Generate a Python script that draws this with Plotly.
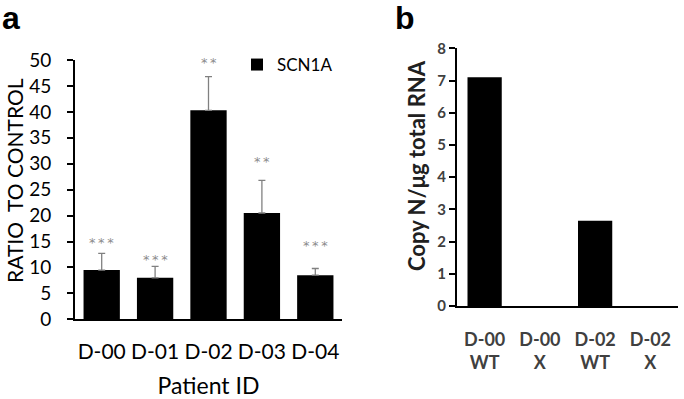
import plotly.graph_objects as go

# Panel a data
patients = ["D-00", "D-01", "D-02", "D-03", "D-04"]
ratio = [9.5, 8.0, 40.3, 20.5, 8.5]
ratio_err = [3.2, 2.2, 6.5, 6.3, 1.3]
stars = ["*\u2009*\u2009*", "*\u2009*\u2009*", "*\u2009*", "*\u2009*", "*\u2009*\u2009*"]
star_y = [14.8, 11.6, 49.5, 30.4, 14.3]

# Panel b data
samples = ["D-00<br>WT", "D-00<br>X", "D-02<br>WT", "D-02<br>X"]
copies = [7.1, 0.0, 2.65, 0.0]

W, H = 684, 399
FONT = "Lato"

fig = go.Figure()

fig.add_trace(go.Bar(
    x=patients, y=ratio, name="SCN1A", marker=dict(color="black", line=dict(width=0)),
    width=0.68,
    error_y=dict(type="data", array=ratio_err, arrayminus=[0]*len(ratio), symmetric=False,
                 color="#808080", thickness=1.3, width=3.5),
    xaxis="x", yaxis="y", showlegend=True,
))

fig.add_trace(go.Bar(
    x=samples, y=copies, marker=dict(color="black", line=dict(width=0)),
    width=0.62, xaxis="x2", yaxis="y2", showlegend=False,
))

for p, s, sy in zip(patients, stars, star_y):
    fig.add_annotation(x=p, y=sy, xref="x", yref="y", text=s, showarrow=False,
                       font=dict(family="DejaVu Sans", size=13, color="#8c8c8c"))

fig.update_layout(
    width=W, height=H,
    margin=dict(l=0, r=0, t=0, b=0, autoexpand=False),
    paper_bgcolor="white", plot_bgcolor="white",
    xaxis=dict(domain=[75/W, 342/W], showline=True, linecolor="black", linewidth=2,
               ticks="", tickfont=dict(family=FONT, size=21, color="black"),
               title=dict(text="Patient ID", font=dict(family=FONT, size=23, color="black"), standoff=18),
               anchor="y", showgrid=False, ticklabelstandoff=12, automargin=False),
    yaxis=dict(domain=[1-319.3/H, 1-60/H], range=[0, 50], dtick=5, showline=True,
               linecolor="black", linewidth=2, ticks="outside", ticklen=6, tickwidth=2,
               tickcolor="black", showgrid=False, zeroline=False,
               tickfont=dict(family=FONT, size=19, color="black"),
               anchor="x", automargin=False, ticklabelstandoff=12),
    xaxis2=dict(domain=[457/W, 678/W], showline=True, linecolor="black", linewidth=2,
                ticks="", tickfont=dict(family=FONT, size=18, color="#404040", weight="bold"),
                anchor="y2", showgrid=False, ticklabelstandoff=16, automargin=False),
    yaxis2=dict(domain=[1-306/H, 1-48.3/H], range=[0, 8], dtick=1, showline=True,
                linecolor="black", linewidth=2, ticks="outside", ticklen=6, tickwidth=2,
                tickcolor="black", showgrid=False, zeroline=False,
                tickfont=dict(family=FONT, size=15, color="#404040", weight="bold"),
                anchor="x2", automargin=False),
    legend=dict(x=237/W, y=1-47/H, xanchor="left", yanchor="top",
                font=dict(family=FONT, size=17, color="black"),
                bgcolor="rgba(0,0,0,0)", itemwidth=30, tracegroupgap=0),
)

# y-axis titles
fig.add_annotation(x=15/W, y=1-181/H, xref="paper", yref="paper", text="RATIO  TO CONTROL",
                   textangle=-90, showarrow=False, xanchor="center", yanchor="middle",
                   font=dict(family=FONT, size=21, color="black"))
fig.add_annotation(x=416/W, y=1-166/H, xref="paper", yref="paper", text="Copy N/μg total RNA",
                   textangle=-90, showarrow=False, xanchor="center", yanchor="middle",
                   font=dict(family=FONT, size=22, color="#202020", weight="bold"))

fig.add_annotation(x=0/W, y=1.0, xref="paper", yref="paper", text="<b>a</b>",
                   showarrow=False, xanchor="left", yanchor="top", yshift=2,
                   font=dict(family="Liberation Sans", size=32, color="black"))
fig.add_annotation(x=393/W, y=1.0, xref="paper", yref="paper", text="<b>b</b>",
                   showarrow=False, xanchor="left", yanchor="top", yshift=2,
                   font=dict(family="Liberation Sans", size=32, color="black"))

fig.write_html("out.html", config={"displayModeBar": False},
               post_script="document.body.style.margin='0px';document.body.style.overflow='hidden';")
